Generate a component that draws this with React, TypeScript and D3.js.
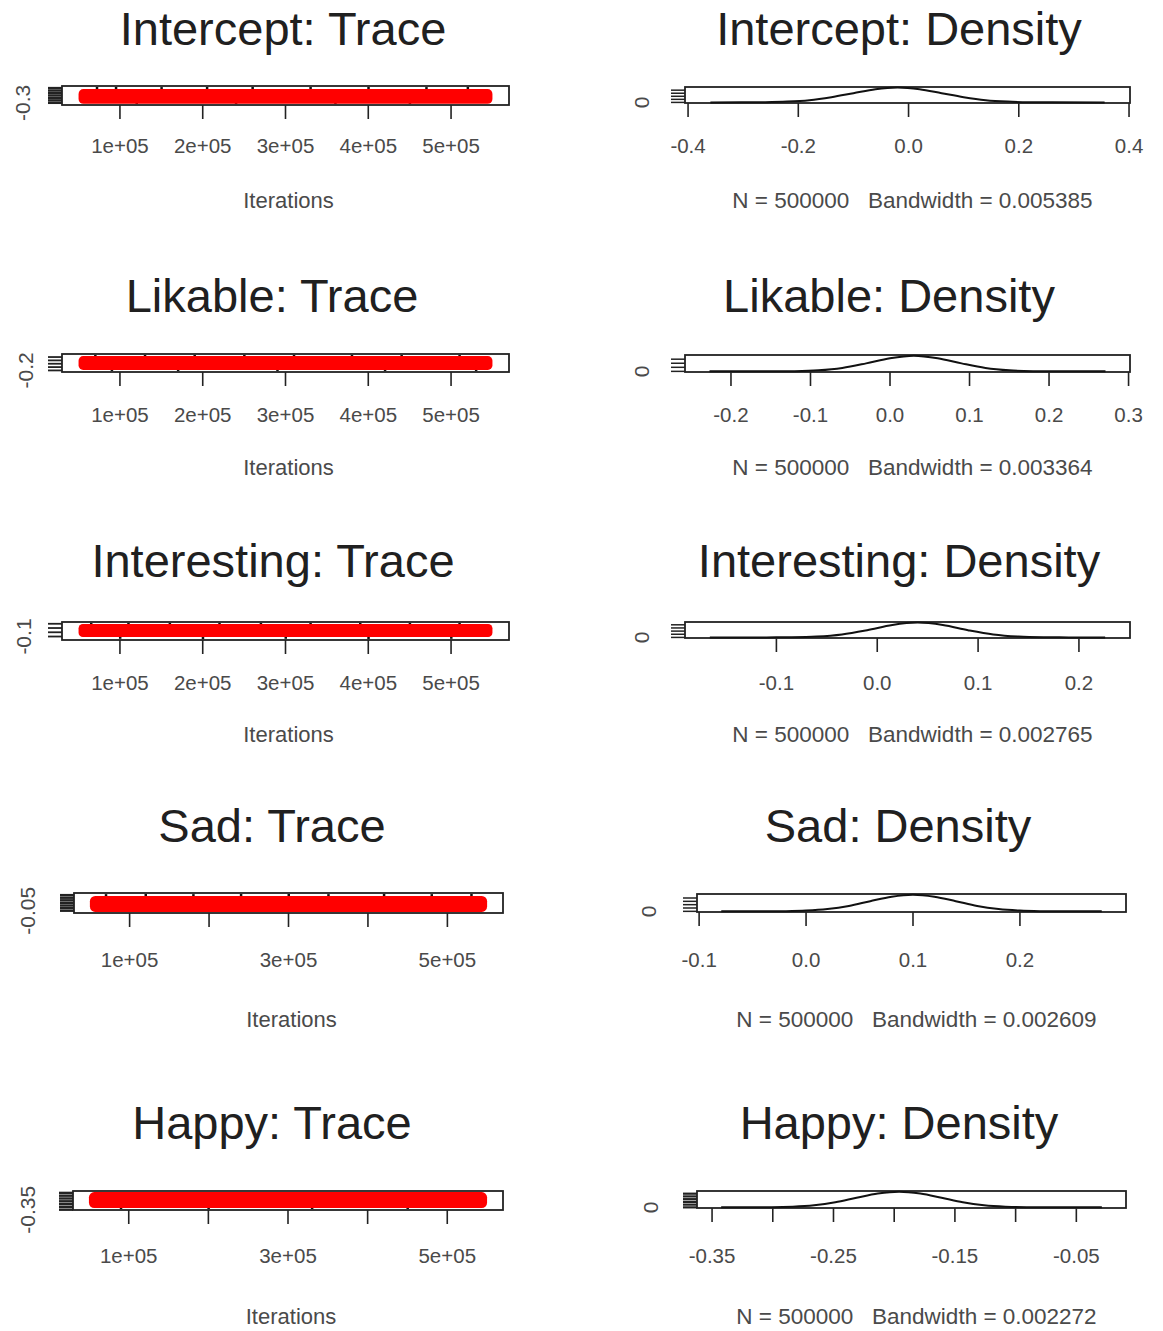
import React from "react";
import * as d3 from "d3";

// ---------- data ----------
const PARAMS = ["Intercept", "Likable", "Interesting", "Sad", "Happy"];
const N_SAMPLES = 500000;
const ITER_START = 50001;
const ITER_END = 550000;
const BANDWIDTHS = ["0.005385", "0.003364", "0.002765", "0.002609", "0.002272"];
const BW_VALUES = [0.005385, 0.003364, 0.002765, 0.002609, 0.002272];

// min / max of the sampled chain
const TRACE_RANGE: [number, number][] = [
  [-0.3595, 0.3557],
  [-0.227, 0.271],
  [-0.166, 0.226],
  [-0.0793, 0.2765],
  [-0.3425, -0.029],
];
// the red band covering the bulk of the chain
const TRACE_BAND: [number, number][] = [
  [-0.34, 0.26],
  [-0.185, 0.23],
  [-0.11, 0.194],
  [-0.072, 0.232],
  [-0.318, -0.036],
];
// a few visible black excursions of the chain
const TRACE_SPECKS: [number, number][][] = [
  [[72000, 0.31], [95000, 0.33], [150000, 0.3], [205000, 0.32], [260000, 0.31], [330000, 0.32], [400000, 0.33], [470000, 0.3], [520000, 0.32], [120000, -0.355], [240000, -0.36], [360000, -0.355], [450000, -0.36]],
  [[70000, 0.25], [130000, 0.26], [190000, 0.25], [250000, 0.27], [310000, 0.25], [380000, 0.26], [440000, 0.25], [510000, 0.26], [90000, -0.21], [170000, -0.22], [290000, -0.21], [420000, -0.22], [530000, -0.21]],
  [[65000, 0.21], [110000, 0.22], [160000, 0.21], [220000, 0.22], [270000, 0.21], [330000, 0.22], [390000, 0.21], [450000, 0.22], [510000, 0.21], [100000, -0.13], [200000, -0.15], [300000, -0.13], [400000, -0.15], [500000, -0.13]],
  [[70000, 0.25], [120000, 0.26], [180000, 0.25], [240000, 0.27], [300000, 0.26], [350000, 0.25], [420000, 0.26], [480000, 0.25], [530000, 0.27], [150000, -0.075], [270000, -0.078], [390000, -0.075], [510000, -0.078]],
  [[65000, -0.03], [110000, -0.03], [160000, -0.032], [210000, -0.03], [260000, -0.03], [310000, -0.032], [360000, -0.03], [410000, -0.03], [460000, -0.032], [520000, -0.03], [90000, -0.33], [200000, -0.335], [330000, -0.33], [450000, -0.335]],
];
const TRACE_Y_TICK_STEP = [0.1, 0.1, 0.1, 0.05, 0.05];
const TRACE_Y_LABELS = ["-0.3", "-0.2", "-0.1", "-0.05", "-0.35"];

const ITER_TICKS = [100000, 200000, 300000, 400000, 500000];
const ITER_TICK_LABELS: string[][] = [
  ["1e+05", "2e+05", "3e+05", "4e+05", "5e+05"],
  ["1e+05", "2e+05", "3e+05", "4e+05", "5e+05"],
  ["1e+05", "2e+05", "3e+05", "4e+05", "5e+05"],
  ["1e+05", "", "3e+05", "", "5e+05"],
  ["1e+05", "", "3e+05", "", "5e+05"],
];

const DENS_X_TICKS: number[][] = [
  [-0.4, -0.2, 0, 0.2, 0.4],
  [-0.2, -0.1, 0, 0.1, 0.2, 0.3],
  [-0.1, 0, 0.1, 0.2],
  [-0.1, 0, 0.1, 0.2],
  [-0.35, -0.3, -0.25, -0.2, -0.15, -0.1, -0.05],
];
const DENS_X_LABELS: string[][] = [
  ["-0.4", "-0.2", "0.0", "0.2", "0.4"],
  ["-0.2", "-0.1", "0.0", "0.1", "0.2", "0.3"],
  ["-0.1", "0.0", "0.1", "0.2"],
  ["-0.1", "0.0", "0.1", "0.2"],
  ["-0.35", "", "-0.25", "", "-0.15", "", "-0.05"],
];
const DENS_Y_TICKS: number[][] = [
  [0, 1, 2, 3, 4],
  [0, 2, 4, 6],
  [0, 2, 4, 6, 8],
  [0, 2, 4, 6, 8],
  [0, 2, 4, 6, 8, 10],
];

// density curve points [x, density]
const DENSITY_CURVES: [number, number][][] = [
  [[-0.3595, 0], [-0.3, 0.015], [-0.26, 0.07], [-0.22, 0.26], [-0.18, 0.73], [-0.14, 1.7], [-0.1, 3.0], [-0.06, 4.3], [-0.02, 4.84], [0.02, 4.3], [0.06, 3.0], [0.1, 1.7], [0.14, 0.73], [0.18, 0.26], [0.22, 0.07], [0.26, 0.015], [0.3557, 0]],
  [[-0.227, 0], [-0.15, 0.015], [-0.12, 0.11], [-0.09, 0.51], [-0.06, 1.68], [-0.03, 3.93], [0.0, 6.5], [0.03, 7.75], [0.06, 6.5], [0.09, 3.93], [0.12, 1.68], [0.15, 0.51], [0.18, 0.11], [0.21, 0.015], [0.271, 0]],
  [[-0.166, 0], [-0.11, 0.01], [-0.085, 0.11], [-0.06, 0.55], [-0.035, 1.9], [-0.01, 4.6], [0.015, 7.9], [0.04, 9.4], [0.065, 7.9], [0.09, 4.6], [0.115, 1.9], [0.14, 0.55], [0.165, 0.11], [0.19, 0.01], [0.226, 0]],
  [[-0.0793, 0], [-0.04, 0.01], [-0.02, 0.11], [0.0, 0.44], [0.02, 1.35], [0.04, 3.2], [0.06, 6.1], [0.08, 8.8], [0.1, 10], [0.12, 8.8], [0.14, 6.1], [0.16, 3.2], [0.18, 1.35], [0.2, 0.44], [0.22, 0.11], [0.24, 0.01], [0.2765, 0]],
  [[-0.3425, 0], [-0.301, 0.13], [-0.2835, 0.5], [-0.266, 1.55], [-0.2485, 3.7], [-0.231, 7], [-0.2135, 10.1], [-0.196, 11.5], [-0.1785, 10.1], [-0.161, 7], [-0.1435, 3.7], [-0.126, 1.55], [-0.1085, 0.5], [-0.091, 0.13], [-0.029, 0]],
];

// ---------- layout ----------
const ROWS = [
  { tTop: 86, tBot: 105, tL: 62, tR: 509, dTop: 87, dBot: 103, dL: 685, dR: 1130, tickY: 145, labY: 200, titleY: 45, yLabX: 22, dYLabX: 641, tTitleX: 283, dTitleX: 899 },
  { tTop: 354, tBot: 372, tL: 62, tR: 509, dTop: 355, dBot: 372, dL: 685, dR: 1130, tickY: 414, labY: 467, titleY: 312, yLabX: 25, dYLabX: 641, tTitleX: 272, dTitleX: 889 },
  { tTop: 622, tBot: 640, tL: 62, tR: 509, dTop: 622, dBot: 638, dL: 685, dR: 1130, tickY: 682, labY: 734, titleY: 577, yLabX: 23, dYLabX: 641, tTitleX: 273, dTitleX: 899 },
  { tTop: 893, tBot: 913, tL: 74, tR: 503, dTop: 894, dBot: 912, dL: 697, dR: 1126, tickY: 959, labY: 1019, titleY: 842, yLabX: 27, dYLabX: 648, tTitleX: 272, dTitleX: 898 },
  { tTop: 1191, tBot: 1210, tL: 73, tR: 503, dTop: 1191, dBot: 1208, dL: 697, dR: 1126, tickY: 1255, labY: 1316, titleY: 1139, yLabX: 27, dYLabX: 650, tTitleX: 272, dTitleX: 899 },
];

const FONT = "'Liberation Sans', Arial, Helvetica, sans-serif";
const TICK_LEN = 14;
const TXT = "#4a4a4a";
const pad = (lo: number, hi: number): [number, number] => {
  const p = (hi - lo) * 0.04;
  return [lo - p, hi + p];
};

function TracePanel({ i }: { i: number }) {
  const L = ROWS[i];
  const x = d3.scaleLinear().domain(pad(ITER_START, ITER_END)).range([L.tL, L.tR]);
  const yDom = pad(TRACE_RANGE[i][0], TRACE_RANGE[i][1]);
  const y = d3.scaleLinear().domain(yDom).range([L.tBot, L.tTop]);
  const step = TRACE_Y_TICK_STEP[i];
  const yTicks = d3.range(Math.ceil(yDom[0] / step - 1e-9), Math.floor(yDom[1] / step + 1e-9) + 1).map((k) => k * step);
  const bx0 = x(ITER_START);
  const bx1 = x(ITER_END);
  const by0 = y(TRACE_BAND[i][1]);
  const by1 = y(TRACE_BAND[i][0]);
  const bh = by1 - by0;
  const firstTick = yTicks[0];
  const dense = yTicks.length > 6;
  return (
    <g>
      <text x={L.tTitleX} y={L.titleY} textAnchor="middle" fontSize={47} fill="#202020" fontFamily={FONT}>
        {PARAMS[i]}: Trace
      </text>
      {TRACE_SPECKS[i].map((s, k) => (
        <rect key={k} x={x(s[0]) - 1} y={Math.min(Math.max(y(s[1]), L.tTop + 2), L.tBot - 2) - 1} width={2.5} height={2} fill="#111" />
      ))}
      <rect x={bx0} y={by0} width={bx1 - bx0} height={bh} rx={bh / 3} ry={bh / 3} fill="#f00" />
      <rect x={L.tL} y={L.tTop} width={L.tR - L.tL} height={L.tBot - L.tTop} fill="none" stroke="#222" strokeWidth={1.8} />
      {yTicks.map((t, k) => (
        <line key={k} x1={L.tL} x2={L.tL - TICK_LEN} y1={y(t)} y2={y(t)} stroke="#222" strokeWidth={dense ? 2.4 : 1.8} />
      ))}
      <text
        transform={`translate(${L.yLabX},${y(firstTick)}) rotate(-90)`}
        textAnchor="middle"
        dominantBaseline="central"
        fontSize={21}
        fill={TXT}
        fontFamily={FONT}
      >
        {TRACE_Y_LABELS[i]}
      </text>
      {ITER_TICKS.map((t, k) => (
        <g key={k}>
          <line x1={x(t)} x2={x(t)} y1={L.tBot} y2={L.tBot + TICK_LEN} stroke="#222" strokeWidth={1.6} />
          <text x={x(t)} y={L.tickY} textAnchor="middle" dominantBaseline="central" fontSize={20.5} fill={TXT} fontFamily={FONT}>
            {ITER_TICK_LABELS[i][k]}
          </text>
        </g>
      ))}
      <text x={(L.tL + L.tR) / 2 + 3} y={L.labY} textAnchor="middle" dominantBaseline="central" fontSize={22} fill={TXT} fontFamily={FONT}>
        Iterations
      </text>
    </g>
  );
}

function DensityPanel({ i }: { i: number }) {
  const L = ROWS[i];
  const pts = DENSITY_CURVES[i];
  const bw = BW_VALUES[i];
  const xDom = pad(TRACE_RANGE[i][0] - 3 * bw, TRACE_RANGE[i][1] + 3 * bw);
  const x = d3.scaleLinear().domain(xDom).range([L.dL, L.dR]);
  const maxD = d3.max(pts, (p) => p[1]) || 1;
  const y = d3.scaleLinear().domain(pad(0, maxD)).range([L.dBot, L.dTop]);
  const line = d3
    .line<[number, number]>()
    .x((d) => x(d[0]))
    .y((d) => y(d[1]))
    .curve(d3.curveMonotoneX);
  return (
    <g>
      <text x={L.dTitleX} y={L.titleY} textAnchor="middle" fontSize={47} fill="#202020" fontFamily={FONT}>
        {PARAMS[i]}: Density
      </text>
      <rect x={L.dL} y={L.dTop} width={L.dR - L.dL} height={L.dBot - L.dTop} fill="none" stroke="#222" strokeWidth={1.8} />
      <path d={line(pts) || ""} fill="none" stroke="#111" strokeWidth={2} />
      {DENS_Y_TICKS[i].map((t, k) => (
        <line key={k} x1={L.dL} x2={L.dL - TICK_LEN} y1={y(t)} y2={y(t)} stroke="#222" strokeWidth={DENS_Y_TICKS[i].length > 5 ? 2.2 : 1.5} />
      ))}
      <text
        transform={`translate(${L.dYLabX},${y(0)}) rotate(-90)`}
        textAnchor="middle"
        dominantBaseline="central"
        fontSize={21}
        fill={TXT}
        fontFamily={FONT}
      >
        0
      </text>
      {DENS_X_TICKS[i].map((t, k) => (
        <g key={k}>
          <line x1={x(t)} x2={x(t)} y1={L.dBot} y2={L.dBot + TICK_LEN} stroke="#222" strokeWidth={1.6} />
          <text x={x(t)} y={L.tickY} textAnchor="middle" dominantBaseline="central" fontSize={20.5} fill={TXT} fontFamily={FONT}>
            {DENS_X_LABELS[i][k]}
          </text>
        </g>
      ))}
      <text
        x={(L.dL + L.dR) / 2 + 5}
        y={L.labY}
        textAnchor="middle"
        dominantBaseline="central"
        fontSize={22.5}
        fill={TXT}
        fontFamily={FONT}
        style={{ whiteSpace: "pre" }}
      >
        {`N = ${N_SAMPLES}   Bandwidth = ${BANDWIDTHS[i]}`}
      </text>
    </g>
  );
}

export default function App() {
  return (
    <svg
      width={1163}
      height={1331}
      viewBox="0 0 1163 1331"
      style={{ position: "absolute", left: 0, top: 0, background: "#fff", display: "block" }}
    >
      <rect x={0} y={0} width={1163} height={1331} fill="#fff" />
      {PARAMS.map((_, i) => (
        <g key={i}>
          <TracePanel i={i} />
          <DensityPanel i={i} />
        </g>
      ))}
    </svg>
  );
}
